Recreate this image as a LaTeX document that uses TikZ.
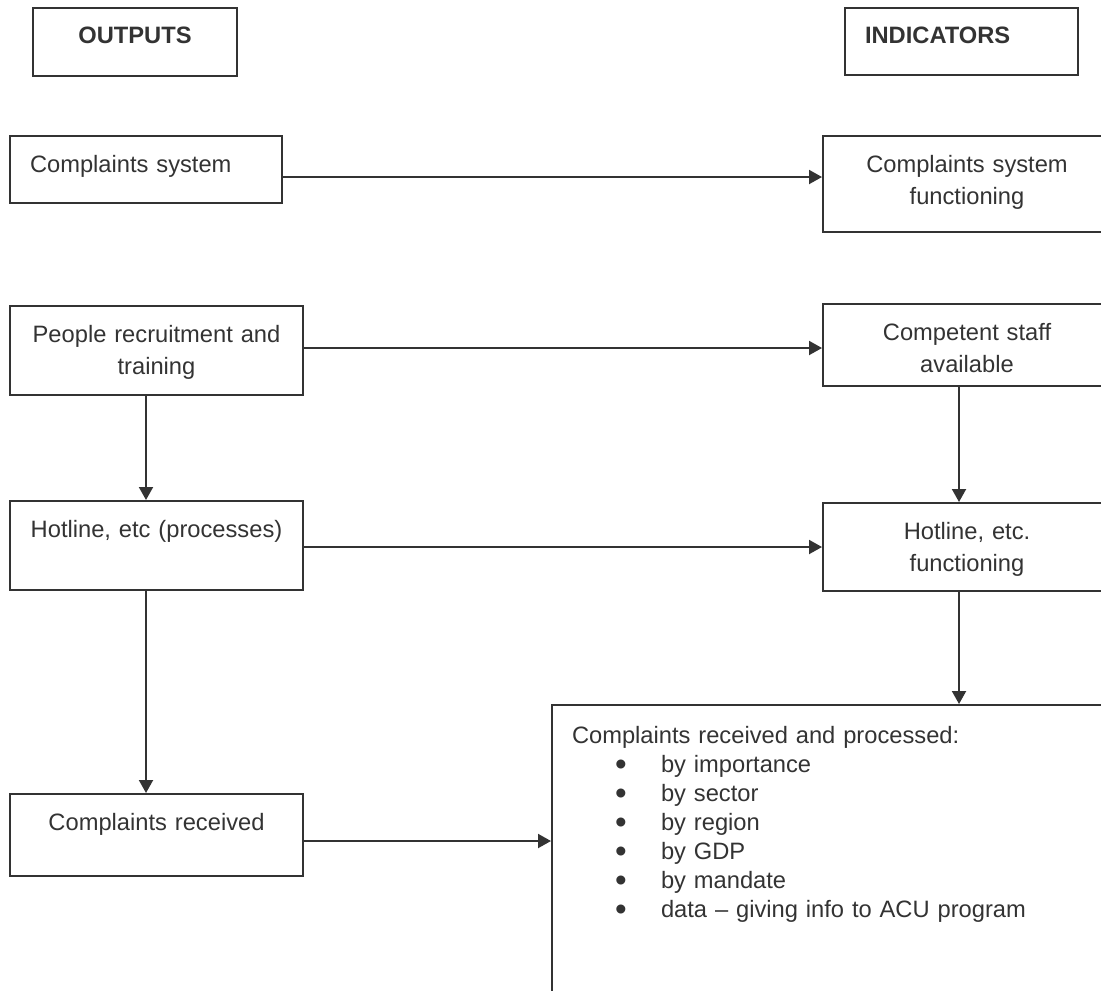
\documentclass[tikz,border=0pt]{standalone}
\usepackage{fontspec}
\setmainfont{Liberation Sans}
\usepackage{color}
\usepackage{tikz}
\usetikzlibrary{arrows,arrows.meta,positioning,shapes}
\definecolor{ink}{HTML}{333333}
\newcommand{\blt}{\hspace*{24.5pt}\makebox[0pt]{\raisebox{-1.6pt}[0pt][0pt]{\scalebox{1.4}{•}}}\hspace*{20pt}}

\begin{document}
\begin{tikzpicture}[x=0.5pt,y=-0.5pt,
            >={Triangle[length=6.5pt,width=7pt]},
            box/.style={draw=ink,line width=1pt,rectangle,anchor=north west,text=ink,
              inner xsep=10pt,inner ysep=0pt,text height=18pt,
              font=\fontsize{11.85pt}{16pt}\selectfont},
            lbox/.style={box,align=left},
            cbox/.style={box,align=center},
            head/.style={font=\fontsize{11.85pt}{16pt}\selectfont\bfseries},
            bul/.style={align=left,font=\fontsize{11.85pt}{14.5pt}\selectfont,text height=19pt},
            link/.style={draw=ink,line width=1pt,->}
          ]
          \useasboundingbox (0,0) rectangle (1101,990);

          %headers
          \node[cbox,head,text width=82pt,text depth=16pt] (outputs) at (32,7) {OUTPUTS};
          \node[lbox,head,text width=96.5pt,text depth=15.5pt] (indicators) at (844,7) {INDICATORS};

          %outputs
          \node[lbox,text width=116pt,text depth=15.5pt] (cs) at (9,135) {Complaints system};
          \node[cbox,text width=126.5pt,text depth=26.5pt] (people) at (9,305) {People recruitment and\\training};
          \node[cbox,text width=126.5pt,text depth=26.5pt] (hotl) at (9,500) {Hotline, etc (processes)};
          \node[cbox,text width=126.5pt,text depth=23pt] (cr) at (9,793) {Complaints received};

          %indicators
          \node[cbox,text width=124pt,text depth=30pt] (csf) at (822,135) {Complaints system\\functioning};
          \node[cbox,text width=124pt,text depth=23pt] (comp) at (822,303) {Competent staff\\available};
          \node[cbox,text width=124pt,text depth=26pt] (hotr) at (822,502) {Hotline, etc.\\functioning};
          \node[box,bul,text width=260pt,text depth=131pt] (big) at (551,704) {Complaints received and processed:\\
            \blt by importance\\
            \blt by sector\\
            \blt by region\\
            \blt by GDP\\
            \blt by mandate\\
            \blt data -- giving info to ACU program};

          %arrows
          \draw[link] ([yshift=-3.75pt]cs.east) -- ([yshift=-3.75pt]cs.east -| csf.west);
          \draw[link] ([yshift=1.25pt]people.east) -- ([yshift=1.25pt]people.east -| comp.west);
          \draw[link] (hotl.east |- hotr.west) -- (hotr.west);
          \draw[link] ([yshift=-3pt]cr.east) -- ([yshift=-3pt]cr.east -| big.west);
          \draw[link] ([xshift=-5.25pt]people.south) -- ([xshift=-5.25pt]people.south |- hotl.north);
          \draw[link] ([xshift=-5.25pt]hotl.south) -- ([xshift=-5.25pt]hotl.south |- cr.north);
          \draw[link] ([xshift=-4pt]comp.south) -- ([xshift=-4pt]comp.south |- hotr.north);
          \draw[link] ([xshift=-4pt]hotr.south) -- ([xshift=-4pt]hotr.south |- big.north);
      \end{tikzpicture}
\end{document}
